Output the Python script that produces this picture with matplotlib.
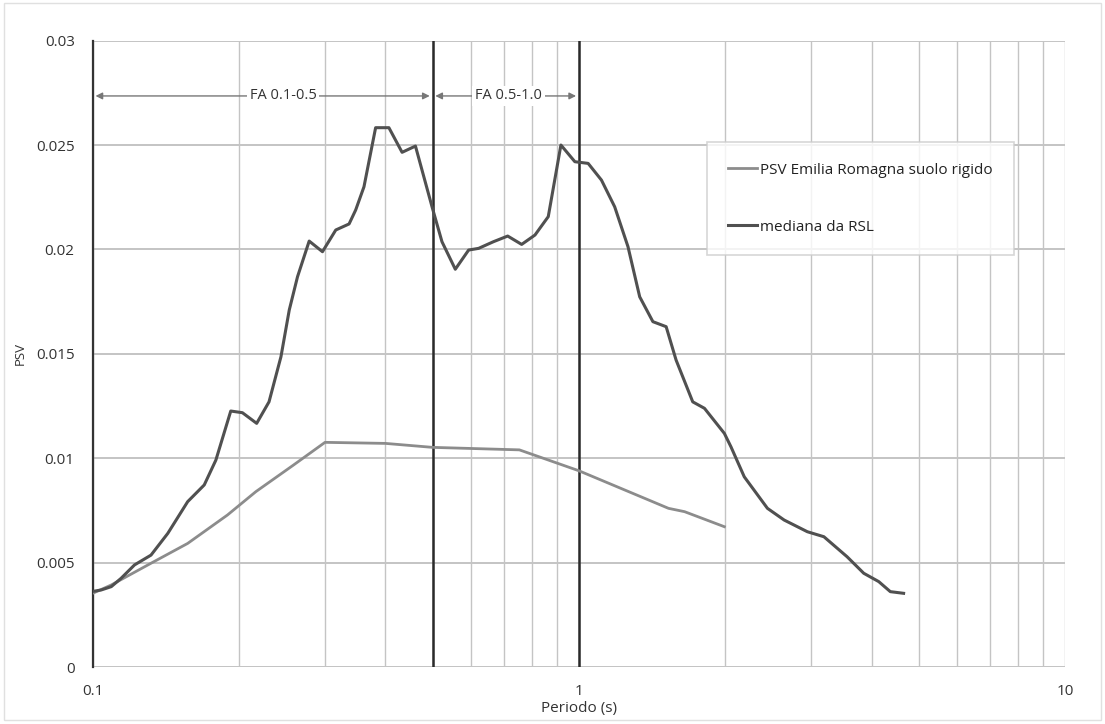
import matplotlib
matplotlib.use("Agg")
import matplotlib.pyplot as plt
from matplotlib.ticker import FixedLocator, NullFormatter, LogLocator

# ---- data ----
median_T = [0.1, 0.1041, 0.1092, 0.1144, 0.1219, 0.1318, 0.1427, 0.1568, 0.1696, 0.1792,
            0.1923, 0.2032, 0.2174, 0.2305, 0.2439, 0.2537, 0.2638, 0.2788, 0.2969, 0.3162,
            0.3368, 0.3475, 0.3614, 0.3819, 0.4067, 0.4329, 0.4612, 0.4989, 0.5229, 0.557,
            0.5933, 0.6219, 0.6674, 0.7139, 0.7627, 0.8124, 0.8651, 0.9185, 0.9813, 1.045,
            1.113, 1.185, 1.262, 1.334, 1.420, 1.512, 1.585, 1.715, 1.813, 1.992,
            2.055, 2.189, 2.443, 2.644, 2.951, 3.192, 3.563, 3.855, 4.139, 4.372, 4.656]
median_psv = [0.00362, 0.00369, 0.00385, 0.00425, 0.00489, 0.00536, 0.0064, 0.00792, 0.00872, 0.00991,
              0.01226, 0.01218, 0.01167, 0.0127, 0.01486, 0.0171, 0.01869, 0.0204, 0.01989, 0.02093,
              0.02122, 0.02189, 0.023, 0.02583, 0.02583, 0.02465, 0.02495, 0.02204, 0.02037, 0.01905,
              0.01997, 0.02005, 0.02037, 0.02064, 0.02024, 0.02069, 0.02157, 0.025, 0.0242, 0.02412,
              0.02332, 0.02204, 0.02013, 0.01773, 0.01654, 0.0163, 0.0147, 0.0127, 0.01239, 0.01119,
              0.01055, 0.00911, 0.0076, 0.00704, 0.00648, 0.00624, 0.00528, 0.00449, 0.00409, 0.00361, 0.00353]

ref_T = [0.1, 0.1092, 0.1318, 0.1568, 0.1893, 0.2166, 0.2587, 0.3005, 0.4, 0.5, 0.7545, 1.0, 1.529, 1.65, 1.992]
ref_psv = [0.00353, 0.00393, 0.00497, 0.00592, 0.00728, 0.0084, 0.00967, 0.01076, 0.01071, 0.01052,
           0.0104, 0.0094, 0.0076, 0.00744, 0.00672]

band_edges = [0.1, 0.5, 1.0]
band_labels = ["FA 0.1-0.5", "FA 0.5-1.0"]
band_label_x = [0.2466, 0.716]
yticks = [0, 0.005, 0.01, 0.015, 0.02, 0.025, 0.03]
ytick_labels = ["0", "0.005", "0.01", "0.015", "0.02", "0.025", "0.03"]
xticks = [0.1, 1, 10]
xtick_labels = ["0.1", "1", "10"]

plt.rcParams['font.family'] = ['Open Sans', 'DejaVu Sans']

fig = plt.figure(figsize=(11.05, 7.24), dpi=100)
ax = fig.add_axes([0.0839, 0.0787, 0.8799, 0.8652])

ax.set_xscale('log')
ax.set_xlim(0.1, 10)
ax.set_ylim(0, 0.03)

ax.xaxis.set_major_locator(FixedLocator(xticks))
ax.set_xticklabels(xtick_labels)
ax.xaxis.set_minor_locator(LogLocator(base=10, subs=range(2, 10)))
ax.xaxis.set_minor_formatter(NullFormatter())
ax.set_yticks(yticks)
ax.set_yticklabels(ytick_labels)

ax.grid(True, which='both', axis='x', color='#c4c4c4', linewidth=1.0)
ax.grid(True, which='major', axis='y', color='#c4c4c4', linewidth=1.4)
ax.set_axisbelow(True)
ax.tick_params(which='both', length=0, labelsize=11, colors='#333333')
ax.tick_params(axis='y', pad=13)
ax.tick_params(axis='x', pad=12)
for s in ['top', 'right', 'bottom']:
    ax.spines[s].set_visible(False)
ax.spines['left'].set_color('#333333')
ax.spines['left'].set_linewidth(1.6)
ax.axhline(0, color='#c4c4c4', linewidth=1.4, zorder=0.5)

for e in band_edges[1:]:
    ax.axvline(e, color='#2a2a2a', linewidth=1.8, zorder=2)

ax.plot(ref_T, ref_psv, color='#8c8c8c', linewidth=2.0, label='PSV Emilia Romagna suolo rigido', zorder=3)
ax.plot(median_T, median_psv, color='#505050', linewidth=2.2, label='mediana da RSL', zorder=3)

ya = 0.02735
for i in range(2):
    ax.annotate('', xy=(band_edges[i + 1], ya), xytext=(band_edges[i], ya),
                arrowprops=dict(arrowstyle='<|-|>', color='#777777', lw=1.0,
                                mutation_scale=10, shrinkA=2, shrinkB=2), zorder=4)
    ax.text(band_label_x[i], ya, band_labels[i], ha='center', va='center', fontsize=10.5,
            color='#333333', bbox=dict(facecolor='white', edgecolor='none', pad=2), zorder=5)

leg = ax.legend(loc='upper left', bbox_to_anchor=(0.6318, 0.838), frameon=True, fancybox=False,
                edgecolor='#cccccc', fontsize=11, labelspacing=2.75, handlelength=1.9,
                borderpad=1.35, handletextpad=0.25, borderaxespad=0)
leg.get_frame().set_linewidth(1.2)
for t in leg.get_texts():
    t.set_color('#222222')

ax.set_xlabel('Periodo (s)', fontsize=11, color='#333333', labelpad=2)
ax.set_ylabel('PSV', fontsize=9.5, color='#333333', labelpad=4)
ax.yaxis.set_label_coords(-0.068, 0.5)

fig.patches.append(plt.Rectangle((0.004, 0.006), 0.992, 0.99, transform=fig.transFigure,
                                 fill=False, edgecolor='#e0e0e0', linewidth=1.0))

fig.savefig('out.png', dpi=100)
